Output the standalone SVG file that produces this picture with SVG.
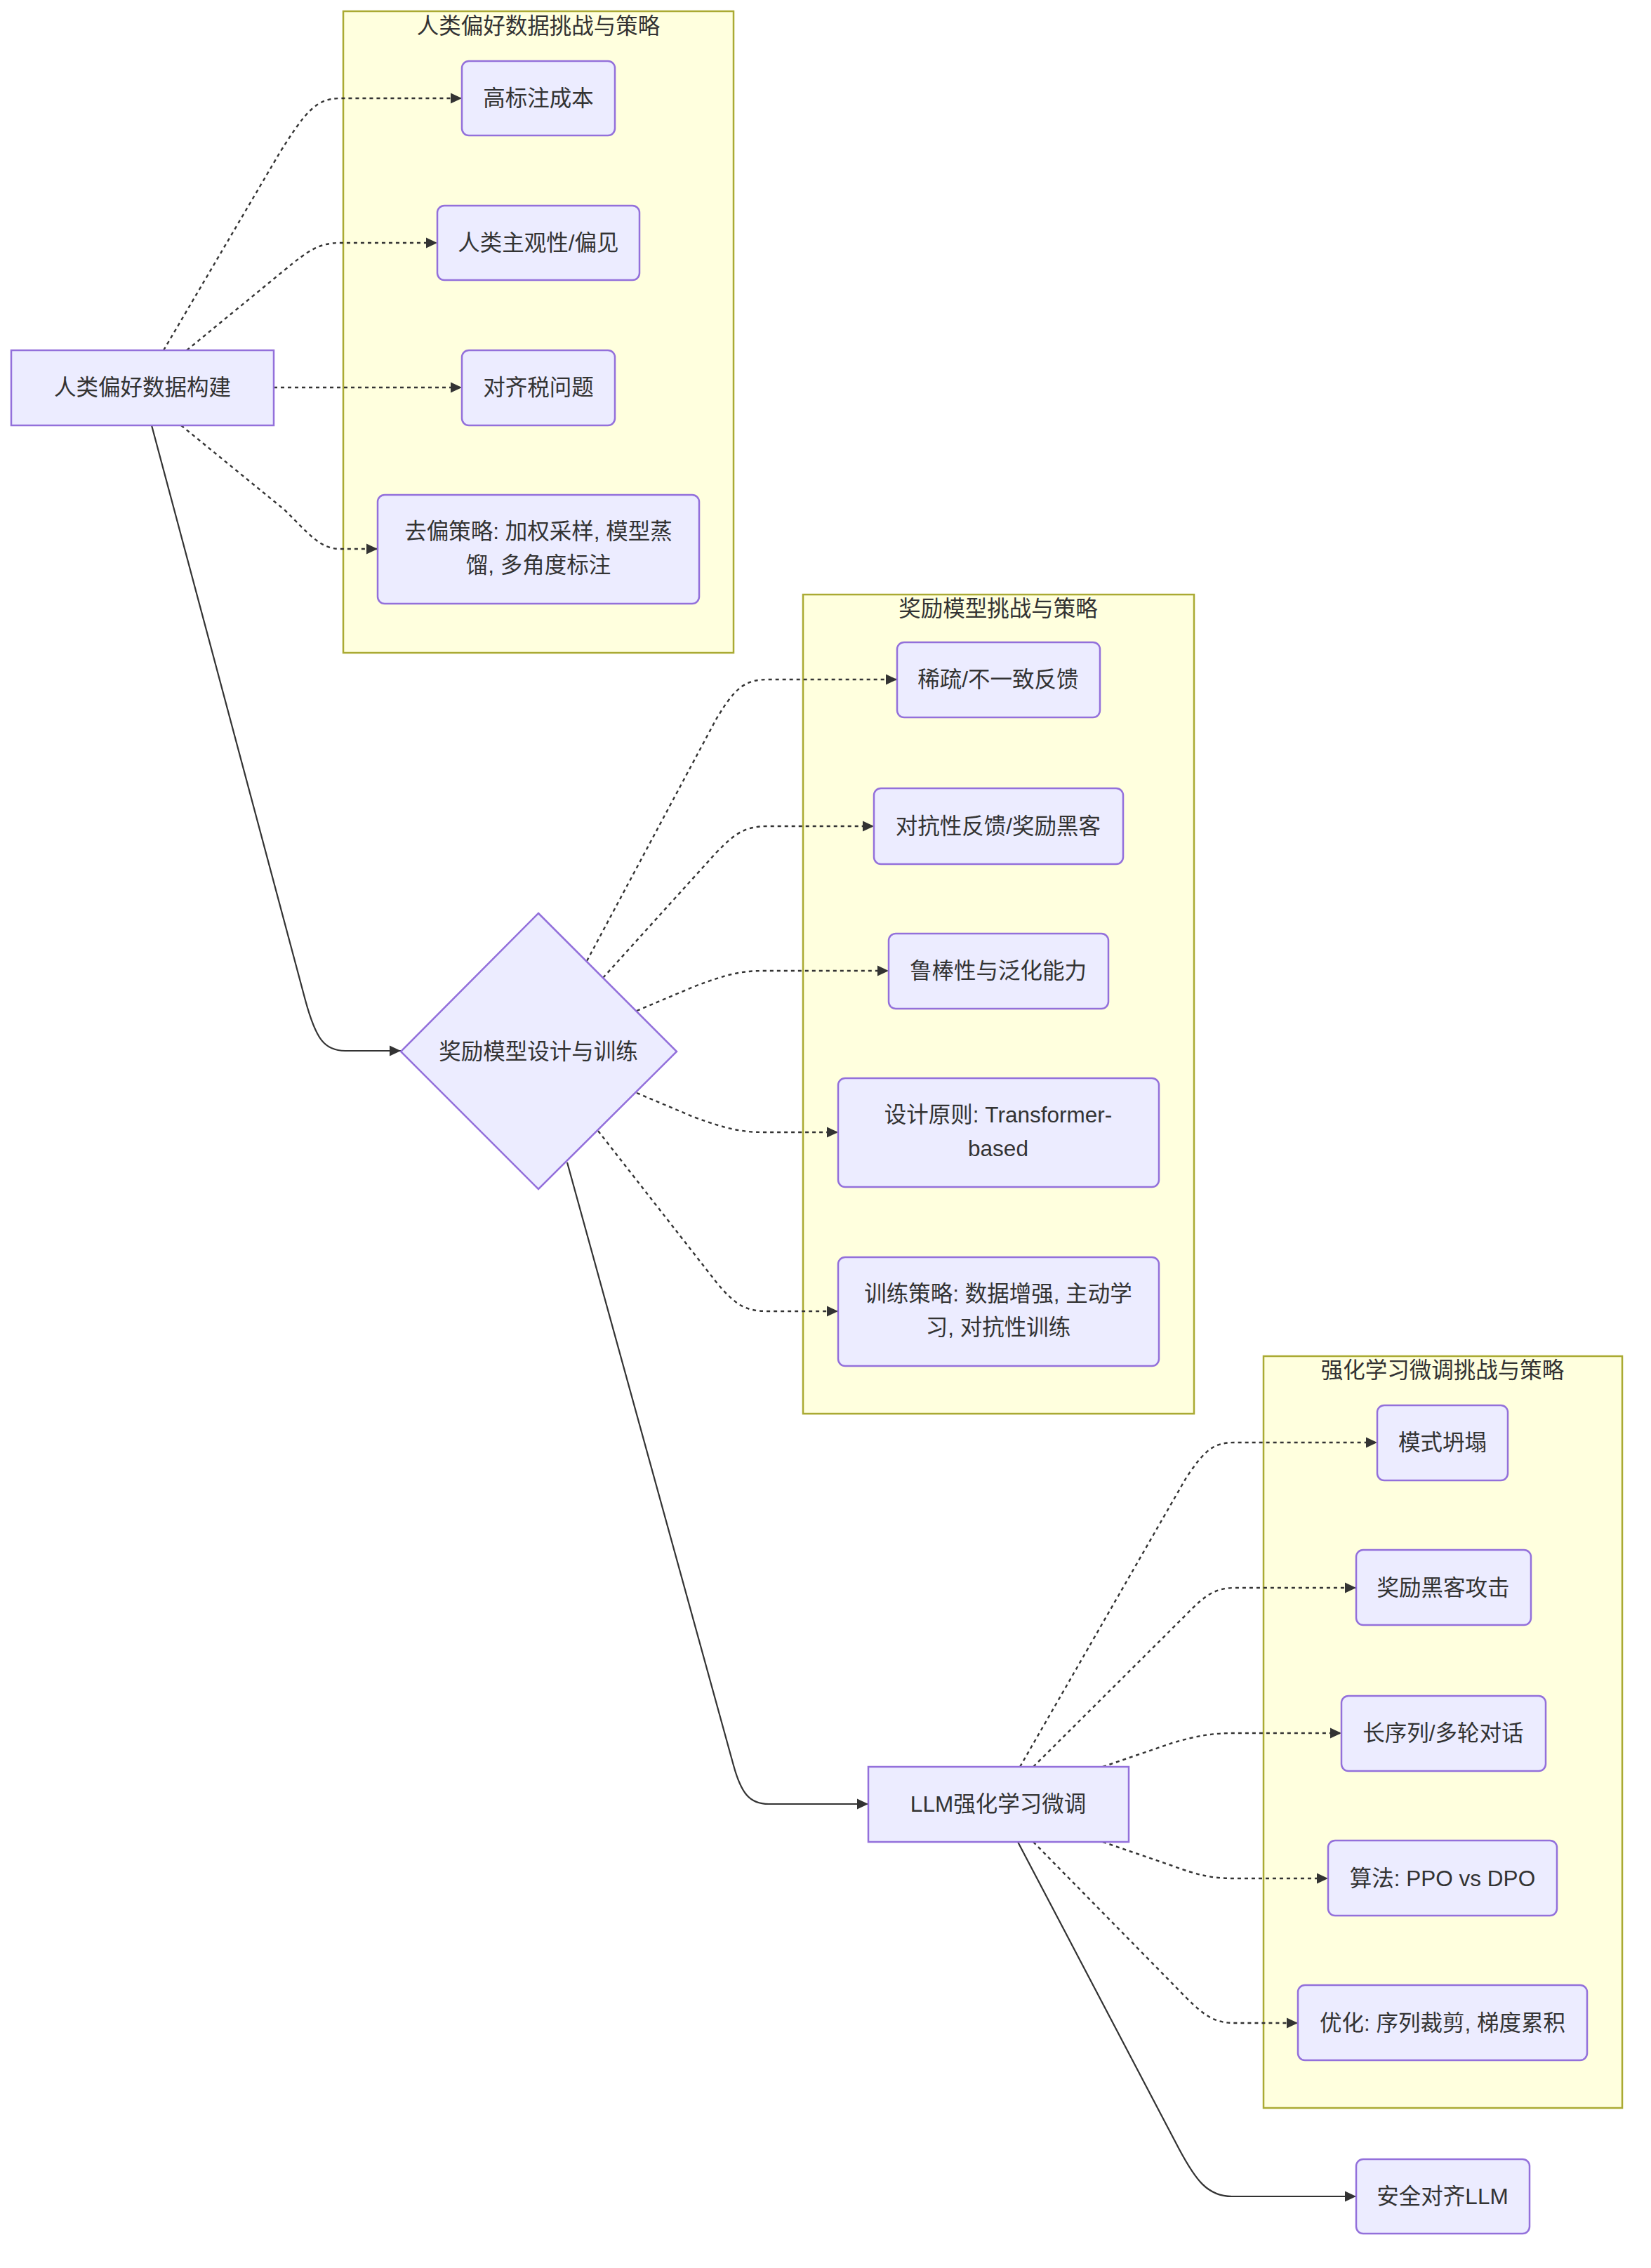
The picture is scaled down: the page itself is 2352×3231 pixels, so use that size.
<svg xmlns="http://www.w3.org/2000/svg" width="2352" height="3231" viewBox="0 0 2352 3231">
<style>
text{font-family:"Liberation Sans","Noto Sans CJK SC",sans-serif;font-size:31.5px;fill:#333;text-anchor:middle;dominant-baseline:central}
.cl{fill:#ffffde;stroke:#aaaa33;stroke-width:2.5}
.nd{fill:#ECECFF;stroke:#9370DB;stroke-width:2.5}
.e{fill:none;stroke:#333;stroke-width:2.2}
.d{fill:none;stroke:#333;stroke-width:2.4;stroke-dasharray:5 5}
</style>
<defs>
<marker id="ah" markerUnits="userSpaceOnUse" markerWidth="18" markerHeight="16" refX="16" refY="8" orient="auto">
<path d="M0,0.5 L16,8 L0,15.5 z" fill="#333"/>
</marker>
</defs>
<rect width="2352" height="3231" fill="#fff"/>
<g id="clusters">
<g id="cluster-data"><rect class="cl" x="489" y="16" width="556" height="914"/><text x="767" y="37">人类偏好数据挑战与策略</text></g>
<g id="cluster-rm"><rect class="cl" x="1144" y="847" width="557" height="1167"/><text x="1422" y="867">奖励模型挑战与策略</text></g>
<g id="cluster-rl"><rect class="cl" x="1800" y="1932" width="511" height="1071"/><text x="2055" y="1952">强化学习微调挑战与策略</text></g>
</g>
<g id="edges">
<path class="d" d="M233,499 L400,215 C435,160 450,140 485,140 L658,140" marker-end="url(#ah)"/>
<path class="d" d="M266,499 L405,385 C440,356 455,346 485,346 L623,346" marker-end="url(#ah)"/>
<path class="d" d="M390,552 L658,552" marker-end="url(#ah)"/>
<path class="d" d="M258,606 L405,726 C440,760 455,782 485,782 L538,782" marker-end="url(#ah)"/>
<path class="e" d="M216,606 L435,1425 C450,1480 462,1497 492,1497 L571,1497" marker-end="url(#ah)"/>
<path class="d" d="M836,1369 L1020,1025 C1048,978 1062,968 1095,968 L1278,968" marker-end="url(#ah)"/>
<path class="d" d="M859,1393 L1020,1215 C1048,1186 1062,1177 1095,1177 L1245,1177" marker-end="url(#ah)"/>
<path class="d" d="M907,1440 L990,1405 C1035,1388 1055,1383 1090,1383 L1266,1383" marker-end="url(#ah)"/>
<path class="d" d="M907,1557 L990,1592 C1035,1608 1055,1613 1090,1613 L1194,1613" marker-end="url(#ah)"/>
<path class="d" d="M852,1611 L1020,1826 C1048,1860 1062,1868 1095,1868 L1194,1868" marker-end="url(#ah)"/>
<path class="e" d="M808,1656 L1045,2515 C1056,2555 1068,2570 1095,2570 L1237,2570" marker-end="url(#ah)"/>
<path class="d" d="M1453,2517 L1690,2105 C1718,2063 1730,2055 1760,2055 L1962,2055" marker-end="url(#ah)"/>
<path class="d" d="M1472,2517 L1690,2300 C1718,2271 1732,2262 1760,2262 L1932,2262" marker-end="url(#ah)"/>
<path class="d" d="M1571,2517 L1670,2483 C1708,2472 1728,2469 1760,2469 L1911,2469" marker-end="url(#ah)"/>
<path class="d" d="M1571,2624 L1670,2658 C1708,2672 1728,2676 1760,2676 L1892,2676" marker-end="url(#ah)"/>
<path class="d" d="M1472,2624 L1690,2846 C1718,2874 1732,2882 1760,2882 L1849,2882" marker-end="url(#ah)"/>
<path class="e" d="M1450,2624 L1680,3062 C1703,3105 1720,3129 1755,3129 L1932,3129" marker-end="url(#ah)"/>
</g>
<g id="n-data"><rect class="nd" x="16" y="499" width="374" height="107"/><text x="203" y="552">人类偏好数据构建</text></g>
<g id="n-cost"><rect class="nd" x="658" y="87" width="218" height="106" rx="10"/><text x="767" y="140">高标注成本</text></g>
<g id="n-bias"><rect class="nd" x="623" y="293" width="288" height="106" rx="10"/><text x="767" y="346">人类主观性/偏见</text></g>
<g id="n-tax"><rect class="nd" x="658" y="499" width="218" height="107" rx="10"/><text x="767" y="552">对齐税问题</text></g>
<g id="n-debias"><rect class="nd" x="538" y="705" width="458" height="155" rx="10"/><text x="767" y="757">去偏策略: 加权采样, 模型蒸</text><text x="767" y="805">馏, 多角度标注</text></g>
<g id="n-rm"><path class="nd" d="M767,1301 L964,1498 L767,1694 L571,1498 Z"/><text x="767" y="1498">奖励模型设计与训练</text></g>
<g id="n-sparse"><rect class="nd" x="1278" y="915" width="289" height="107" rx="10"/><text x="1422" y="968">稀疏/不一致反馈</text></g>
<g id="n-adv"><rect class="nd" x="1245" y="1123" width="355" height="108" rx="10"/><text x="1422" y="1177">对抗性反馈/奖励黑客</text></g>
<g id="n-robust"><rect class="nd" x="1266" y="1330" width="313" height="107" rx="10"/><text x="1422" y="1383">鲁棒性与泛化能力</text></g>
<g id="n-design"><rect class="nd" x="1194" y="1536" width="457" height="155" rx="10"/><text x="1422" y="1588">设计原则: Transformer-</text><text x="1422" y="1636">based</text></g>
<g id="n-train"><rect class="nd" x="1194" y="1791" width="457" height="155" rx="10"/><text x="1422" y="1843">训练策略: 数据增强, 主动学</text><text x="1422" y="1891">习, 对抗性训练</text></g>
<g id="n-llm"><rect class="nd" x="1237" y="2517" width="371" height="107"/><text x="1422" y="2570">LLM强化学习微调</text></g>
<g id="n-collapse"><rect class="nd" x="1962" y="2002" width="186" height="107" rx="10"/><text x="2055" y="2055">模式坍塌</text></g>
<g id="n-hack"><rect class="nd" x="1932" y="2208" width="249" height="107" rx="10"/><text x="2056" y="2262">奖励黑客攻击</text></g>
<g id="n-long"><rect class="nd" x="1911" y="2416" width="291" height="107" rx="10"/><text x="2056" y="2469">长序列/多轮对话</text></g>
<g id="n-algo"><rect class="nd" x="1892" y="2622" width="326" height="107" rx="10"/><text x="2055" y="2676">算法: PPO vs DPO</text></g>
<g id="n-opt"><rect class="nd" x="1849" y="2828" width="412" height="107" rx="10"/><text x="2055" y="2882">优化: 序列裁剪, 梯度累积</text></g>
<g id="n-safe"><rect class="nd" x="1932" y="3076" width="247" height="106" rx="10"/><text x="2055" y="3129">安全对齐LLM</text></g>
</svg>
